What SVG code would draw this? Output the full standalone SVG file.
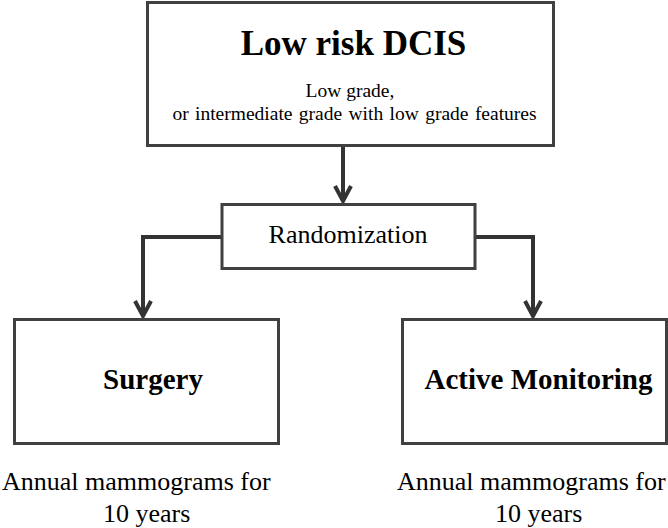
<svg xmlns="http://www.w3.org/2000/svg" width="668" height="528" viewBox="0 0 668 528">
<style>
.box{fill:#fff;stroke:#404040;stroke-width:3}
.t{font-family:"Liberation Serif","Times New Roman",serif;fill:#000}
.b{font-weight:bold}
.c{fill:none;stroke:#333;stroke-width:4}
</style>
<defs>
<marker id="ah" markerUnits="userSpaceOnUse" markerWidth="24" markerHeight="24" refX="20" refY="12" orient="auto" viewBox="0 0 24 24">
<path d="M5 4 L20 12 L5 20" fill="none" stroke="#333" stroke-width="4" stroke-linejoin="miter"/>
</marker>
</defs>
<rect width="668" height="528" fill="#fff"/>
<g id="connectors">
<path class="c" d="M343 146 V201" marker-end="url(#ah)"/>
<path class="c" d="M222 237 H143 V316" marker-end="url(#ah)"/>
<path class="c" d="M475 237 H533 V316" marker-end="url(#ah)"/>
</g>
<g id="lowrisk">
<rect class="box" x="147.5" y="2.5" width="406" height="143"/>
<text class="t b" x="353.5" y="55" font-size="35" text-anchor="middle">Low risk DCIS</text>
<text class="t" x="350" y="97" font-size="19.5" text-anchor="middle">Low grade,</text>
<text class="t" x="354.5" y="120" font-size="19.5" text-anchor="middle" word-spacing="1.5">or intermediate grade with low grade features</text>
</g>
<g id="randomization">
<rect class="box" x="222" y="204.5" width="253" height="64"/>
<text class="t" x="348" y="243" font-size="26" text-anchor="middle">Randomization</text>
</g>
<g id="surgery">
<rect class="box" x="14.5" y="319.5" width="264" height="124"/>
<text class="t b" x="153" y="389" font-size="29" text-anchor="middle">Surgery</text>
<text class="t" x="2" y="490" font-size="26">Annual mammograms for</text>
<text class="t" x="103" y="522" font-size="26">10 years</text>
</g>
<g id="active">
<rect class="box" x="402.5" y="319.5" width="264" height="124"/>
<text class="t b" x="538.5" y="389" font-size="29" text-anchor="middle">Active Monitoring</text>
<text class="t" x="397" y="490" font-size="26">Annual mammograms for</text>
<text class="t" x="495" y="522" font-size="26">10 years</text>
</g>
</svg>
